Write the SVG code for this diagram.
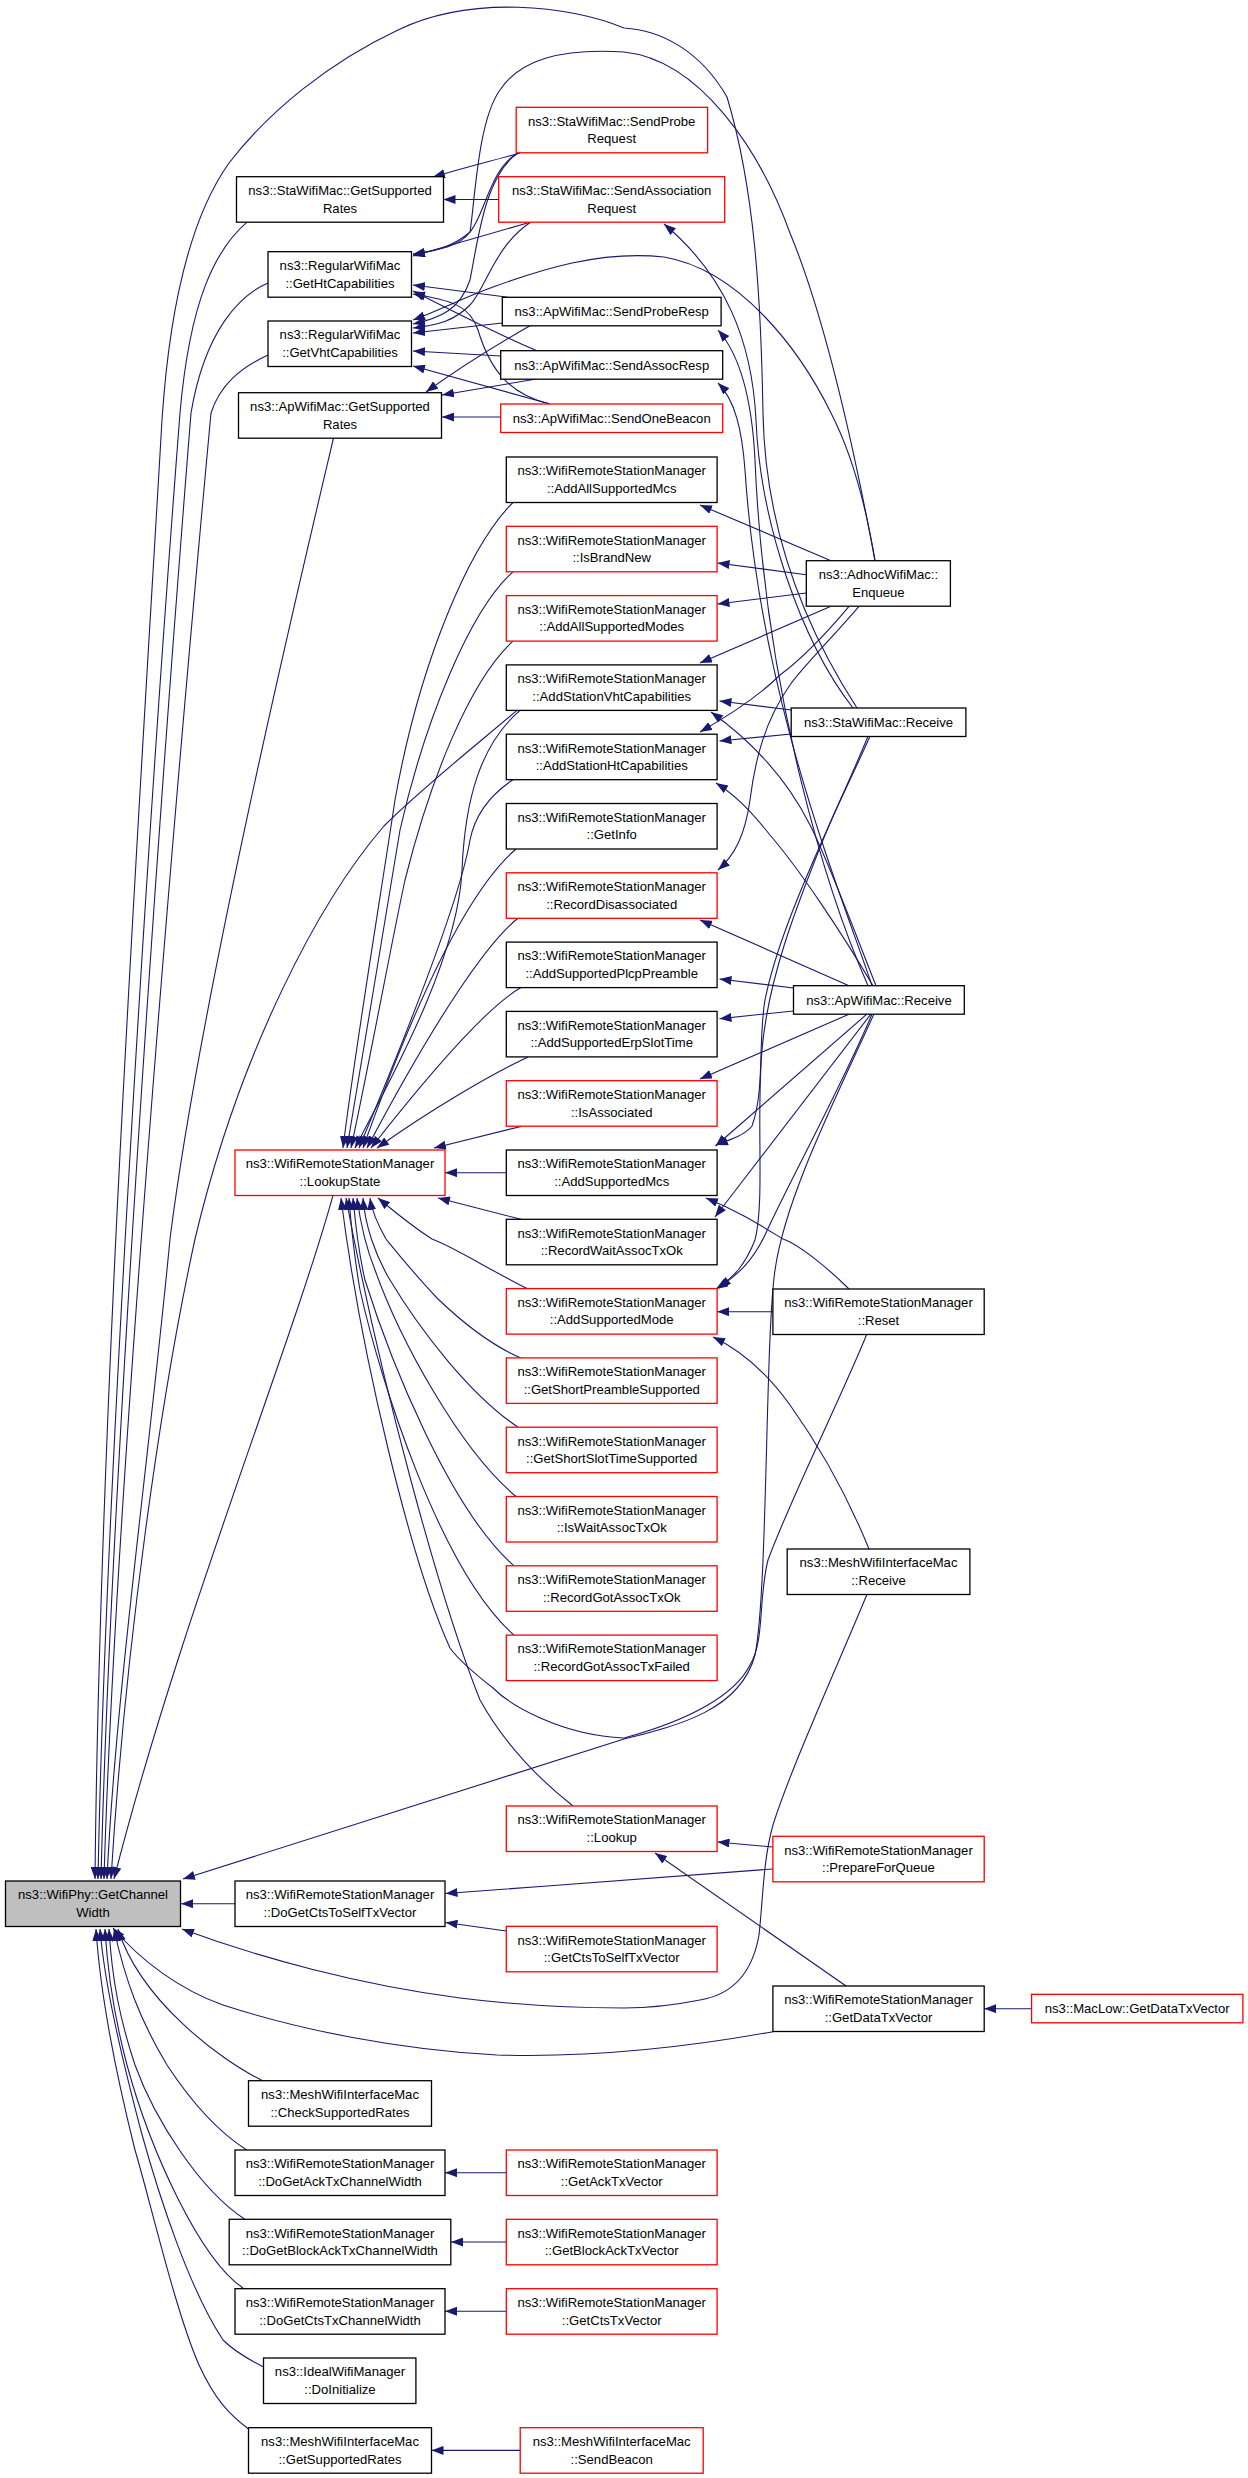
<svg xmlns="http://www.w3.org/2000/svg" width="1248" height="2478" viewBox="0 0 1248 2478">
<defs>
<style>
rect{fill:#fff;stroke:#000;stroke-width:1.3}
.r rect{stroke:#f00}
.g rect{fill:#bfbfbf}
text{font-family:"Liberation Sans",Arial,sans-serif;font-size:13.1px;text-anchor:middle;fill:#000}
.e path{fill:none;stroke:#191970;stroke-width:1.1;marker-end:url(#a)}
</style>
<marker id="a" markerUnits="userSpaceOnUse" viewBox="0 0 12 9" markerWidth="12" markerHeight="9" refX="12" refY="4.5" orient="auto"><path d="M0,0L12,4.5L0,9z" fill="#191970"/></marker>
</defs>
<rect x="0" y="0" width="1248" height="2478" style="fill:#fff;stroke:none"/>
<g class="e" id="edges">
<path d="M520,153 C495,160 460,169 433,177"/>
<path d="M498.7,199.5 L443.5,199.5"/>
<path d="M518,153 C490,168 485,215 470,232 C455,245 440,250 413,255"/>
<path d="M518,153 C485,175 478,240 470,280 C460,310 440,318 413,324"/>
<path d="M531,222 L413,256"/>
<path d="M531,222 C495,245 485,290 470,305 C455,320 440,325 413,328"/>
<path d="M508,297.3 L413,285"/>
<path d="M502.3,323 L413,333"/>
<path d="M530,325.8 C505,340 470,360 426,392"/>
<path d="M537,350.7 C510,340 470,320 413,291"/>
<path d="M500.7,356 L413,351"/>
<path d="M535,379.2 L442,395"/>
<path d="M500.7,417 L442,417"/>
<path d="M550,404 C510,395 490,370 478,330 C470,305 450,300 413,294"/>
<path d="M550,404 L413,366"/>
<path d="M875,560.7 C860,480 830,330 790,233 C760,150 700,60 624,52 C560,48 520,60 500,90 C478,120 475,200 470,232 C460,246 440,250 413,254"/>
<path d="M875,560.7 C865,500 850,450 831,413 C800,350 740,270 664,257 C600,250 540,270 493,287 C465,297 440,310 413,320"/>
<path d="M857,708 C800,620 765,520 763,413 C761,300 755,190 727,97 C700,50 660,30 624,28 C570,5 470,-5 398,30 C330,62 270,110 229,163 C185,225 168,330 162,420 C140,800 100,1400 95,1879"/>
<path d="M247,222.2 C215,250 190,300 180,413 C150,800 105,1500 98,1879"/>
<path d="M268,283 C240,295 205,330 191,413 C160,800 110,1500 101,1879"/>
<path d="M268,355 C240,368 220,385 211,413 C175,800 115,1500 104,1879"/>
<path d="M333.5,438 C300,580 200,1000 170,1239 C150,1450 115,1700 107,1879"/>
<path d="M517,710.4 C470,750 420,790 384,826 C320,900 240,1050 195,1239 C160,1400 125,1650 111,1879"/>
<path d="M333,1195.3 C290,1350 180,1620 114,1879"/>
<path d="M874,1014 C830,1110 785,1200 775,1270 C765,1340 768,1590 755,1655 C740,1710 680,1725 624,1739 L183,1879"/>
<path d="M235,1903.7 L181,1903.7"/>
<path d="M773,2031.7 C700,2045 600,2058 497,2055 C400,2050 300,2030 223,2005 C180,1990 140,1960 113,1928"/>
<path d="M867,1594.3 C840,1660 790,1770 773,1825 C763,1860 763,1900 759,1935 C752,1975 730,1995 700,2000 C670,2006 640,2008 624,2008 C560,2008 500,2003 460,1998 C360,1985 260,1958 182,1929"/>
<path d="M262.7,2080.7 C220,2060 140,2000 118,1929"/>
<path d="M246.8,2150 C215,2130 190,2100 167,2065 C140,2020 125,1980 114,1929"/>
<path d="M244.8,2219.3 C200,2190 155,2120 135,2065 C120,2020 112,1980 109,1929"/>
<path d="M244,2288.7 C200,2260 150,2150 127,2065 C115,2020 108,1980 105,1929"/>
<path d="M263.5,2367 C240,2355 228,2345 223,2340 C190,2290 160,2200 141,2131 C125,2070 105,1990 100,1929"/>
<path d="M248.5,2429 C230,2415 215,2400 199,2365 C175,2310 150,2200 135,2150 C115,2070 100,1990 96,1929"/>
<path d="M506.3,2172.7 L445,2172.7"/>
<path d="M506.3,2242 L451,2242"/>
<path d="M506.3,2311.3 L445,2311.3"/>
<path d="M520.2,2450.4 L431.5,2450.4"/>
<path d="M1031.6,2008.7 L984.2,2008.7"/>
<path d="M772.9,1869 C700,1875 560,1885 445.5,1893.5"/>
<path d="M506.3,1931 L445.5,1922.5"/>
<path d="M772.9,1847 L717.5,1842"/>
<path d="M846,1986 L655,1853"/>
<path d="M573,1806 C540,1780 505,1745 480,1700 C440,1600 380,1380 346,1198"/>
<path d="M866.8,1334.3 C840,1400 790,1500 768,1560 C758,1600 765,1640 750,1665 C735,1695 690,1720 624,1738 C560,1735 510,1705 493,1688 C470,1670 455,1655 450,1648 C410,1560 360,1350 341,1198"/>
<path d="M772.9,1311.7 L717.1,1311.7"/>
<path d="M849,1289 C830,1270 800,1245 783,1239 C760,1225 740,1212 706,1198"/>
<path d="M869,1549 C845,1490 815,1440 790,1405 C765,1370 740,1350 713,1337"/>
<path d="M791.2,710 L719.5,701"/>
<path d="M791.2,734 L719.5,741"/>
<path d="M853,708 C800,640 760,520 756,420 C752,340 725,275 664,224"/>
<path d="M870,736.3 C855,770 840,800 827,830 C800,890 775,950 765,1000 C758,1040 765,1090 752,1126 C745,1135 730,1140 716,1145"/>
<path d="M868,736.3 C850,780 835,810 823,840 C795,910 768,980 762,1050 C756,1120 765,1200 755,1240 C745,1265 735,1275 719,1288"/>
<path d="M831,560.7 L700,505"/>
<path d="M806.3,574.7 L717.5,563"/>
<path d="M806.3,593 L717.5,604"/>
<path d="M831,606.3 L700,663"/>
<path d="M849,606.3 C825,635 800,660 780,675 C760,695 730,715 700,732"/>
<path d="M859,606.3 C830,640 800,670 790,685 C765,720 755,760 750,800 C745,835 735,855 718,870"/>
<path d="M868,985.7 C830,900 765,700 755,460 C752,400 740,355 718,330"/>
<path d="M872,985.7 C840,890 760,700 745,470 C742,430 735,400 718,383"/>
<path d="M873,985.7 C840,930 800,870 770,835 C750,810 735,795 716,783"/>
<path d="M876,985.7 C850,920 828,860 810,825 C785,775 750,740 711,712"/>
<path d="M849,985.7 L700,920"/>
<path d="M793.5,988 L719.5,979"/>
<path d="M793.5,1011 L719.5,1018.7"/>
<path d="M849,1014.2 L700,1079"/>
<path d="M866.8,1014.2 L715.5,1146"/>
<path d="M870.8,1014.2 L715,1217"/>
<path d="M872,1014.2 C840,1090 790,1180 765,1235 C752,1262 738,1275 716,1289"/>
<path d="M513,502.5 C470,545 420,660 395,800 C380,900 355,1050 343,1148"/>
<path d="M513,571.8 C470,610 425,720 400,830 C385,920 362,1060 347,1148"/>
<path d="M513,641.1 C470,680 430,780 405,880 C390,950 368,1070 351,1148"/>
<path d="M520,710.4 C480,745 465,800 462,870 C458,960 390,1080 355,1148"/>
<path d="M513,779.7 C490,795 475,815 470,840 C460,900 400,1050 359,1148"/>
<path d="M516,849 C480,880 430,960 363,1148"/>
<path d="M518,918.3 C490,940 440,1010 367,1148"/>
<path d="M521,987.6 C490,1005 440,1060 371,1148"/>
<path d="M528,1056.9 C490,1075 430,1110 377,1148"/>
<path d="M522,1126.2 L434,1148"/>
<path d="M506.3,1172.7 L445,1172.7"/>
<path d="M521,1219.3 L438,1198"/>
<path d="M527,1288.6 C490,1270 450,1245 432,1239 C410,1225 395,1212 378,1198"/>
<path d="M521,1357.9 C490,1345 460,1320 438,1299 C415,1275 395,1250 386,1239 C378,1225 372,1212 370,1198"/>
<path d="M518,1427.2 C470,1395 420,1330 390,1280 C375,1255 365,1225 363,1198"/>
<path d="M516,1496.5 C460,1450 400,1340 375,1270 C365,1245 360,1220 357,1198"/>
<path d="M514,1565.8 C450,1510 390,1360 365,1280 C358,1250 355,1220 353,1198"/>
<path d="M514,1635.1 C440,1570 380,1380 360,1290 C354,1255 351,1225 349,1198"/>
</g>
<g id="n0" class="g"><rect x="5.5" y="1881" width="175" height="45.5"/><text x="93" y="1899.3">ns3::WifiPhy::GetChannel</text><text x="93" y="1916.8">Width</text></g>
<g id="c1a"><rect x="236.5" y="176.7" width="207" height="45.5"/><text x="340" y="195">ns3::StaWifiMac::GetSupported</text><text x="340" y="212.5">Rates</text></g>
<g id="c1b"><rect x="268" y="251.7" width="143.5" height="45.5"/><text x="340" y="270">ns3::RegularWifiMac</text><text x="340" y="287.5">::GetHtCapabilities</text></g>
<g id="c1c"><rect x="268" y="321" width="143.5" height="45.5"/><text x="340" y="339.3">ns3::RegularWifiMac</text><text x="340" y="356.8">::GetVhtCapabilities</text></g>
<g id="c1d"><rect x="238.5" y="392.7" width="203" height="45.5"/><text x="340" y="411">ns3::ApWifiMac::GetSupported</text><text x="340" y="428.5">Rates</text></g>
<g id="c1e" class="r"><rect x="235" y="1150" width="210" height="45.5"/><text x="340" y="1168.3">ns3::WifiRemoteStationManager</text><text x="340" y="1185.8">::LookupState</text></g>
<g id="c1f"><rect x="235" y="1881" width="210" height="45.5"/><text x="340" y="1899.3">ns3::WifiRemoteStationManager</text><text x="340" y="1916.8">::DoGetCtsToSelfTxVector</text></g>
<g id="c1g"><rect x="248.5" y="2080.7" width="183" height="45.5"/><text x="340" y="2099">ns3::MeshWifiInterfaceMac</text><text x="340" y="2116.5">::CheckSupportedRates</text></g>
<g id="c1h"><rect x="235" y="2150" width="210" height="45.5"/><text x="340" y="2168.3">ns3::WifiRemoteStationManager</text><text x="340" y="2185.8">::DoGetAckTxChannelWidth</text></g>
<g id="c1i"><rect x="229.2" y="2219.3" width="221.6" height="45.5"/><text x="340" y="2237.6">ns3::WifiRemoteStationManager</text><text x="340" y="2255.1">::DoGetBlockAckTxChannelWidth</text></g>
<g id="c1j"><rect x="235" y="2288.7" width="210" height="45.5"/><text x="340" y="2307">ns3::WifiRemoteStationManager</text><text x="340" y="2324.5">::DoGetCtsTxChannelWidth</text></g>
<g id="c1k"><rect x="263.5" y="2358" width="152.4" height="45.5"/><text x="340" y="2376.3">ns3::IdealWifiManager</text><text x="340" y="2393.8">::DoInitialize</text></g>
<g id="c1l"><rect x="248.5" y="2427.7" width="183" height="45.5"/><text x="340" y="2446">ns3::MeshWifiInterfaceMac</text><text x="340" y="2463.5">::GetSupportedRates</text></g>
<g id="sendProbeReq" class="r"><rect x="516.2" y="107.3" width="191.4" height="45.5"/><text x="611.7" y="125.6">ns3::StaWifiMac::SendProbe</text><text x="611.7" y="143.1">Request</text></g>
<g id="sendAssocReq" class="r"><rect x="498.7" y="176.7" width="226" height="45.5"/><text x="611.7" y="195">ns3::StaWifiMac::SendAssociation</text><text x="611.7" y="212.5">Request</text></g>
<g id="sendProbeResp"><rect x="502.3" y="297.3" width="218.8" height="28.5"/><text x="611.7" y="316.2">ns3::ApWifiMac::SendProbeResp</text></g>
<g id="sendAssocResp"><rect x="500.7" y="350.7" width="222" height="28.5"/><text x="611.7" y="369.6">ns3::ApWifiMac::SendAssocResp</text></g>
<g id="sendOneBeacon" class="r"><rect x="500.7" y="404" width="222" height="28.5"/><text x="611.7" y="422.9">ns3::ApWifiMac::SendOneBeacon</text></g>
<g id="m01"><rect x="506.3" y="457" width="210.8" height="45.5"/><text x="611.7" y="475.3">ns3::WifiRemoteStationManager</text><text x="611.7" y="492.8">::AddAllSupportedMcs</text></g>
<g id="m02" class="r"><rect x="506.3" y="526.3" width="210.8" height="45.5"/><text x="611.7" y="544.6">ns3::WifiRemoteStationManager</text><text x="611.7" y="562.1">::IsBrandNew</text></g>
<g id="m03" class="r"><rect x="506.3" y="595.6" width="210.8" height="45.5"/><text x="611.7" y="613.9">ns3::WifiRemoteStationManager</text><text x="611.7" y="631.4">::AddAllSupportedModes</text></g>
<g id="m04"><rect x="506.3" y="664.9" width="210.8" height="45.5"/><text x="611.7" y="683.2">ns3::WifiRemoteStationManager</text><text x="611.7" y="700.7">::AddStationVhtCapabilities</text></g>
<g id="m05"><rect x="506.3" y="734.2" width="210.8" height="45.5"/><text x="611.7" y="752.5">ns3::WifiRemoteStationManager</text><text x="611.7" y="770">::AddStationHtCapabilities</text></g>
<g id="m06"><rect x="506.3" y="803.5" width="210.8" height="45.5"/><text x="611.7" y="821.8">ns3::WifiRemoteStationManager</text><text x="611.7" y="839.3">::GetInfo</text></g>
<g id="m07" class="r"><rect x="506.3" y="872.8" width="210.8" height="45.5"/><text x="611.7" y="891.1">ns3::WifiRemoteStationManager</text><text x="611.7" y="908.6">::RecordDisassociated</text></g>
<g id="m08"><rect x="506.3" y="942.1" width="210.8" height="45.5"/><text x="611.7" y="960.4">ns3::WifiRemoteStationManager</text><text x="611.7" y="977.9">::AddSupportedPlcpPreamble</text></g>
<g id="m09"><rect x="506.3" y="1011.4" width="210.8" height="45.5"/><text x="611.7" y="1029.7">ns3::WifiRemoteStationManager</text><text x="611.7" y="1047.2">::AddSupportedErpSlotTime</text></g>
<g id="m10" class="r"><rect x="506.3" y="1080.7" width="210.8" height="45.5"/><text x="611.7" y="1099">ns3::WifiRemoteStationManager</text><text x="611.7" y="1116.5">::IsAssociated</text></g>
<g id="m11"><rect x="506.3" y="1150" width="210.8" height="45.5"/><text x="611.7" y="1168.3">ns3::WifiRemoteStationManager</text><text x="611.7" y="1185.8">::AddSupportedMcs</text></g>
<g id="m12"><rect x="506.3" y="1219.3" width="210.8" height="45.5"/><text x="611.7" y="1237.6">ns3::WifiRemoteStationManager</text><text x="611.7" y="1255.1">::RecordWaitAssocTxOk</text></g>
<g id="m13" class="r"><rect x="506.3" y="1288.6" width="210.8" height="45.5"/><text x="611.7" y="1306.9">ns3::WifiRemoteStationManager</text><text x="611.7" y="1324.4">::AddSupportedMode</text></g>
<g id="m14" class="r"><rect x="506.3" y="1357.9" width="210.8" height="45.5"/><text x="611.7" y="1376.2">ns3::WifiRemoteStationManager</text><text x="611.7" y="1393.7">::GetShortPreambleSupported</text></g>
<g id="m15" class="r"><rect x="506.3" y="1427.2" width="210.8" height="45.5"/><text x="611.7" y="1445.5">ns3::WifiRemoteStationManager</text><text x="611.7" y="1463">::GetShortSlotTimeSupported</text></g>
<g id="m16" class="r"><rect x="506.3" y="1496.5" width="210.8" height="45.5"/><text x="611.7" y="1514.8">ns3::WifiRemoteStationManager</text><text x="611.7" y="1532.3">::IsWaitAssocTxOk</text></g>
<g id="m17" class="r"><rect x="506.3" y="1565.8" width="210.8" height="45.5"/><text x="611.7" y="1584.1">ns3::WifiRemoteStationManager</text><text x="611.7" y="1601.6">::RecordGotAssocTxOk</text></g>
<g id="m18" class="r"><rect x="506.3" y="1635.1" width="210.8" height="45.5"/><text x="611.7" y="1653.4">ns3::WifiRemoteStationManager</text><text x="611.7" y="1670.9">::RecordGotAssocTxFailed</text></g>
<g id="m19" class="r"><rect x="506.3" y="1806" width="210.8" height="45.5"/><text x="611.7" y="1824.3">ns3::WifiRemoteStationManager</text><text x="611.7" y="1841.8">::Lookup</text></g>
<g id="m20" class="r"><rect x="506.3" y="1926.3" width="210.8" height="45.5"/><text x="611.7" y="1944.6">ns3::WifiRemoteStationManager</text><text x="611.7" y="1962.1">::GetCtsToSelfTxVector</text></g>
<g id="m21" class="r"><rect x="506.3" y="2150" width="210.8" height="45.5"/><text x="611.7" y="2168.3">ns3::WifiRemoteStationManager</text><text x="611.7" y="2185.8">::GetAckTxVector</text></g>
<g id="m22" class="r"><rect x="506.3" y="2219.3" width="210.8" height="45.5"/><text x="611.7" y="2237.6">ns3::WifiRemoteStationManager</text><text x="611.7" y="2255.1">::GetBlockAckTxVector</text></g>
<g id="m23" class="r"><rect x="506.3" y="2288.7" width="210.8" height="45.5"/><text x="611.7" y="2307">ns3::WifiRemoteStationManager</text><text x="611.7" y="2324.5">::GetCtsTxVector</text></g>
<g id="m24" class="r"><rect x="520.2" y="2427.7" width="183" height="45.5"/><text x="611.7" y="2446">ns3::MeshWifiInterfaceMac</text><text x="611.7" y="2463.5">::SendBeacon</text></g>
<g id="enqueue"><rect x="806.3" y="560.7" width="144.1" height="45.5"/><text x="878.4" y="579">ns3::AdhocWifiMac::</text><text x="878.4" y="596.5">Enqueue</text></g>
<g id="staReceive"><rect x="791.2" y="708" width="174.7" height="28.5"/><text x="878.5" y="726.9">ns3::StaWifiMac::Receive</text></g>
<g id="apReceive"><rect x="793.5" y="985.7" width="170.8" height="28.5"/><text x="878.9" y="1004.6">ns3::ApWifiMac::Receive</text></g>
<g id="reset"><rect x="772.9" y="1289" width="211.3" height="45.5"/><text x="878.5" y="1307.3">ns3::WifiRemoteStationManager</text><text x="878.5" y="1324.8">::Reset</text></g>
<g id="meshReceive"><rect x="787.2" y="1549" width="182.7" height="45.5"/><text x="878.5" y="1567.3">ns3::MeshWifiInterfaceMac</text><text x="878.5" y="1584.8">::Receive</text></g>
<g id="prepareForQueue" class="r"><rect x="772.9" y="1836.3" width="211.3" height="45.5"/><text x="878.5" y="1854.6">ns3::WifiRemoteStationManager</text><text x="878.5" y="1872.1">::PrepareForQueue</text></g>
<g id="getDataTxVector"><rect x="772.9" y="1986" width="211.3" height="45.5"/><text x="878.5" y="2004.3">ns3::WifiRemoteStationManager</text><text x="878.5" y="2021.8">::GetDataTxVector</text></g>
<g id="macLow" class="r"><rect x="1031.6" y="1994.3" width="211.3" height="28.5"/><text x="1137.2" y="2013.2">ns3::MacLow::GetDataTxVector</text></g>
</svg>
